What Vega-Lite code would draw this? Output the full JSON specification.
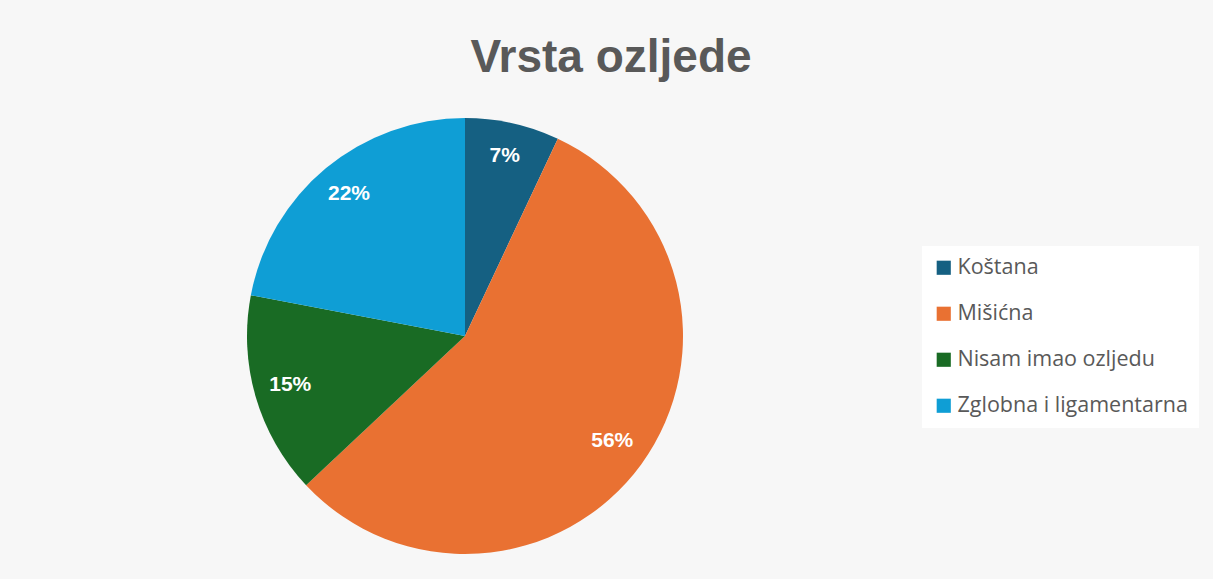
{
  "$schema": "https://vega.github.io/schema/vega-lite/v6.json",
  "autosize": {"type": "none"},
  "width": 436,
  "height": 436,
  "padding": {"left": 247, "top": 118, "right": 530, "bottom": 25},
  "background": "#f7f7f7",
  "title": {
    "text": "Vrsta ozljede",
    "font": "Liberation Sans",
    "fontSize": 46,
    "fontWeight": "bold",
    "color": "#595959",
    "anchor": "middle",
    "frame": "group",
    "dx": 146,
    "baseline": "alphabetic",
    "offset": 0
  },
  "data": {
    "values": [
      {"kategorija": "Koštana", "udio": 7, "oznaka": "7%"},
      {"kategorija": "Mišićna", "udio": 56, "oznaka": "56%"},
      {"kategorija": "Nisam imao ozljedu", "udio": 15, "oznaka": "15%"},
      {"kategorija": "Zglobna i ligamentarna", "udio": 22, "oznaka": "22%"}
    ]
  },
  "encoding": {
    "theta": {"field": "udio", "type": "quantitative", "stack": true},
    "order": {"field": "kategorija", "type": "nominal", "sort": "ascending"},
    "color": {
      "field": "kategorija",
      "type": "nominal",
      "scale": {
        "domain": ["Koštana", "Mišićna", "Nisam imao ozljedu", "Zglobna i ligamentarna"],
        "range": ["#156082", "#e97132", "#196b24", "#0f9ed5"]
      },
      "legend": {
        "title": null,
        "orient": "none",
        "legendX": 675,
        "legendY": 128,
        "fillColor": "white",
        "padding": 11,
        "symbolType": "square",
        "symbolSize": 200,
        "symbolStrokeWidth": 0,
        "labelFont": "Open Sans",
        "labelFontSize": 21.5,
        "labelColor": "#595959",
        "labelOffset": 3,
        "rowPadding": 23,
        "labelLimit": 400
      }
    }
  },
  "layer": [
    {"mark": {"type": "arc", "outerRadius": 218}},
    {
      "mark": {"type": "text", "radius": 182, "dy": -2, "font": "Liberation Sans", "fontSize": 21, "fontWeight": "bold", "fill": "white"},
      "encoding": {
        "text": {"field": "oznaka", "type": "nominal"},
        "color": {"value": "white"}
      }
    }
  ],
  "config": {"view": {"stroke": null}}
}
